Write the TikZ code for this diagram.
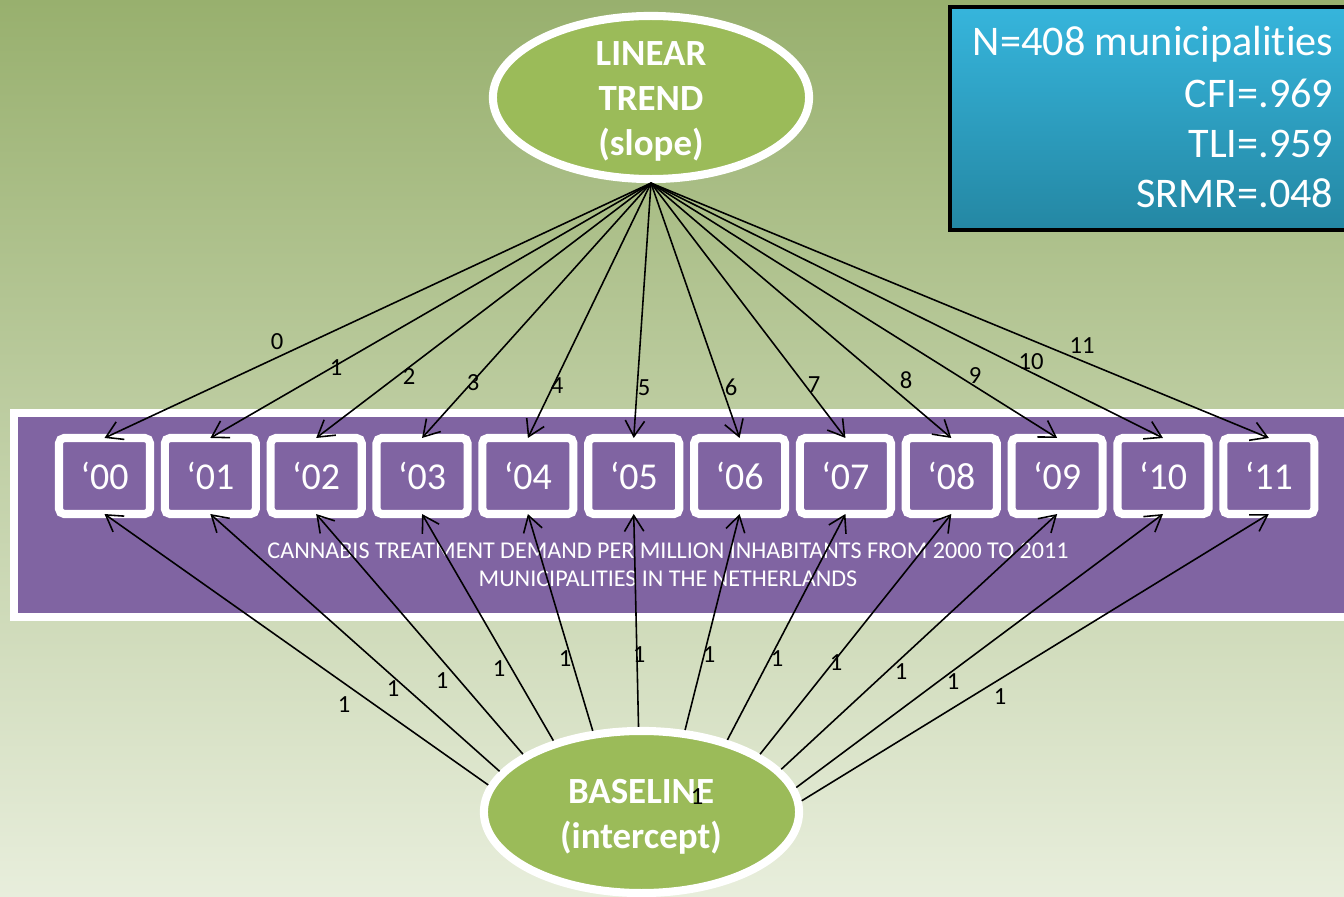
\documentclass[tikz,border=0pt]{standalone}
\usepackage{fontspec}
\setmainfont{Carlito}[Ligatures={TeX,NoCommon}]
\usetikzlibrary{shapes.geometric,arrows.meta}
\definecolor{bgtop}{RGB}{152,176,110}
\definecolor{bgmid}{RGB}{192,208,168}
\definecolor{bgbot}{RGB}{232,238,220}
\definecolor{latgreen}{RGB}{155,187,89}
\definecolor{bandpurple}{RGB}{128,100,162}
\definecolor{fittop}{RGB}{54,181,220}
\definecolor{fitbot}{RGB}{36,135,163}
\tikzset{
  latent/.style={ellipse,draw=white,line width=2.3pt,fill=latgreen,inner sep=0pt},
  latenttxt/.style={text=white,align=center,font=\fontsize{10.5}{12.8}\selectfont\bfseries},
  yearbox/.style={draw=white,line width=2.3pt,rounded corners=1.5pt,minimum width=0.91cm,
    minimum height=0.76cm,outer sep=0pt,text=white,font=\fontsize{10.8}{13}\selectfont},
  load/.style={line width=0.45pt,-{Straight Barb[length=4.5pt,width=5.5pt]}},
  loadlab/.style={font=\fontsize{7}{8}\selectfont,inner sep=0pt},
  fittext/.style={anchor=base east,inner sep=0pt,text=white,font=\fontsize{12}{14.4}\selectfont}
}
\begin{document}
\begin{tikzpicture}[x=0.01cm,y=-0.01cm]
  \clip (0,0) rectangle (1344,897);
  \shade[top color=bgtop,middle color=bgmid,bottom color=bgbot] (0,0) rectangle (1344,897);

  % fit indices
  \draw[line width=1.2pt,top color=fittop,bottom color=fitbot] (950,7) rectangle (1370,230);
  \foreach \txt/\yy [count=\k] in {N=408 municipalities/55,CFI=.969/107,TLI=.959/157,SRMR=.048/207}
    \node[fittext] (fit\k) at (1334,\yy) {\txt};

  % observed years
  \draw[white,line width=2.3pt,fill=bandpurple] (14,413) rectangle (1370,617);
  \node[text=white,align=center,font=\fontsize{6.85}{8}\selectfont] (desc) at (668,565)
    {CANNABIS TREATMENT DEMAND PER MILLION INHABITANTS FROM 2000 TO 2011\\MUNICIPALITIES IN THE NETHERLANDS};
  \foreach \yr [count=\i from 0] in {00,01,02,03,04,05,06,07,08,09,10,11}
    \node[yearbox] (y\yr) at ({104.5+105.85*\i},476) {‘\yr};

  % growth factors
  \node[latent,minimum width=3.16cm,minimum height=1.63cm] (slope) at (651,97.5) {};
  \node[latenttxt] (slopetxt) at (651,101) {LINEAR\\TREND\\(slope)};
  \node[latent,minimum width=3.15cm,minimum height=1.62cm] (base) at (641.5,812) {};
  \node[latenttxt] (basetxt) at (641,817) {BASELINE\\(intercept)};

  \foreach \yr/\lx/\ly [count=\i from 0] in {00/277/342,01/336/368,02/409/377,03/473/383,
      04/557/386,05/644/388,06/731/387,07/814/385,08/906/380,09/975/376,10/1031/362,11/1082/346}
  {
    \draw[load] (slope.south) -- (y\yr.north);
    \node[loadlab] (s\yr) at (\lx,\ly) {\i};
  }
  \foreach \yr/\ang/\lx/\ly in {00/170.8/344/705,01/164.1/393/689,02/154.9/442/681,
      03/141.4/499/669,04/121.2/565/659,05/92.1/639/655,06/62.3/709/655,07/40.5/777/659,
      08/26.9/836/663,09/17.4/901/672,10/9.9/953/682,11/4.6/1000/697}
  {
    \draw[load] (base.\ang) -- (y\yr.south);
    \node[loadlab] (b\yr) at (\lx,\ly) {1};
  }
  \node[loadlab] (stray) at (697,797) {1};
\end{tikzpicture}
\end{document}
